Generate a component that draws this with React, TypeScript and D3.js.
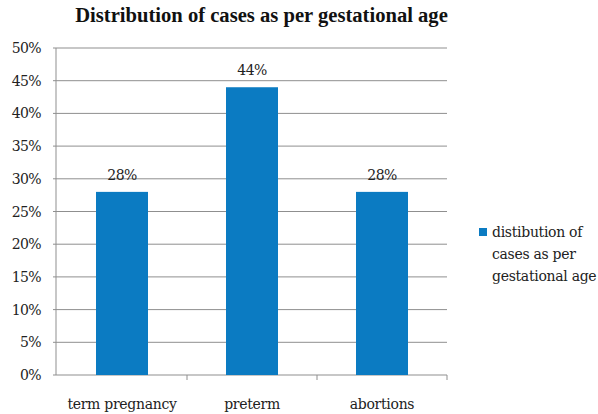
import { useEffect, useRef } from "react";
import * as d3 from "d3";

// chart values
const categories = ["term pregnancy", "preterm", "abortions"];
const values = [0.28, 0.44, 0.28];
const seriesName = "distibution of cases as per gestational age";
const legendLines = ["distibution of", "cases as per", "gestational age"];
const title = "Distribution of cases as per gestational age";

const W = 598;
const H = 414;
const margin = { top: 48, right: 152, bottom: 39, left: 57 };
const barColour = "#0b7bc2";
const gridColour = "#8f8f8f";
const font = "'DejaVu Serif', serif";
const titleFont = "'Liberation Serif', serif";

const App = () => {
  const ref = useRef<SVGSVGElement>(null);

  useEffect(() => {
    const svg = d3.select(ref.current);
    svg.selectAll("*").remove();

    const x = d3.scaleBand<string>()
      .domain(categories)
      .range([margin.left, W - margin.right + 1])
      .paddingInner(0.6)
      .paddingOuter(0.3);

    const y = d3.scaleLinear()
      .domain([0, 0.5])
      .range([H - margin.bottom, margin.top]);

    const fmt = d3.format(".0%");
    const ticks = d3.range(0, 0.5001, 0.05);

    // horizontal gridlines + small tick marks on the left
    svg.append("g")
      .selectAll("line")
      .data(ticks)
      .join("line")
      .attr("x1", margin.left - 4)
      .attr("x2", x.range()[1])
      .attr("y1", d => y(d))
      .attr("y2", d => y(d))
      .attr("stroke", gridColour)
      .attr("stroke-width", 1);

    // y tick labels
    svg.append("g")
      .selectAll("text")
      .data(ticks)
      .join("text")
      .attr("x", 41)
      .attr("y", d => y(d) + 5)
      .attr("text-anchor", "end")
      .style("font-family", font)
      .style("font-size", "14px")
      .style("letter-spacing", "-0.6px")
      .attr("fill", "#222")
      .text(d => fmt(d));

    // y axis line
    svg.append("line")
      .attr("x1", margin.left - 1)
      .attr("x2", margin.left - 1)
      .attr("y1", y(0.5))
      .attr("y2", y(0))
      .attr("stroke", gridColour);

    // x category tick marks
    const bounds = categories.map(c => (x(c) as number) + x.bandwidth() / 2 + x.step() / 2);
    svg.append("g")
      .selectAll("line")
      .data(bounds)
      .join("line")
      .attr("x1", d => d)
      .attr("x2", d => d)
      .attr("y1", y(0))
      .attr("y2", y(0) + 5)
      .attr("stroke", gridColour);

    // bars
    svg.append("g")
      .selectAll("rect")
      .data(values)
      .join("rect")
      .attr("x", (d, i) => x(categories[i]) as number)
      .attr("y", d => y(d))
      .attr("width", x.bandwidth())
      .attr("height", d => y(0) - y(d))
      .attr("fill", barColour);

    // value labels
    svg.append("g")
      .selectAll("text")
      .data(values)
      .join("text")
      .attr("x", (d, i) => (x(categories[i]) as number) + x.bandwidth() / 2)
      .attr("y", d => y(d) - 12)
      .attr("text-anchor", "middle")
      .style("font-family", font)
      .style("font-size", "14px")
      .style("letter-spacing", "-0.6px")
      .attr("fill", "#222")
      .text(d => fmt(d));

    // category labels
    svg.append("g")
      .selectAll("text")
      .data(categories)
      .join("text")
      .attr("x", d => (x(d) as number) + x.bandwidth() / 2)
      .attr("y", H - 5)
      .attr("text-anchor", "middle")
      .style("font-family", font)
      .style("font-size", "14px")
      .style("letter-spacing", "-0.3px")
      .attr("fill", "#222")
      .text(d => d);

    // title
    svg.append("text")
      .attr("x", 261.5)
      .attr("y", 22)
      .attr("text-anchor", "middle")
      .style("font-family", titleFont)
      .style("font-weight", "bold")
      .style("font-size", "20.6px")
      .attr("fill", "#111")
      .text(title);

    // legend
    const legend = svg.append("g").attr("aria-label", seriesName);
    legend.append("rect")
      .attr("x", 479)
      .attr("y", 228)
      .attr("width", 8)
      .attr("height", 8)
      .attr("fill", barColour);
    legend.selectAll("text")
      .data(legendLines)
      .join("text")
      .attr("x", 492)
      .attr("y", (d, i) => 237 + i * 22)
      .style("font-family", font)
      .style("font-size", "14px")
      .style("letter-spacing", "-0.3px")
      .attr("fill", "#222")
      .text(d => d);
  }, []);

  return (
    <svg
      ref={ref}
      width={W}
      height={H}
      viewBox={`0 0 ${W} ${H}`}
      style={{ position: "absolute", left: 0, top: 0, background: "#fff" }}
    />
  );
};

export default App;
